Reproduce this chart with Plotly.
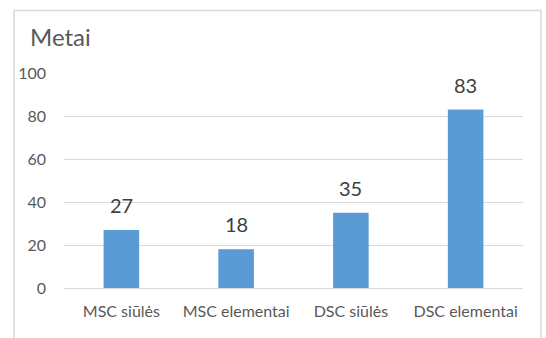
import plotly.graph_objects as go

categories = ["MSC siūlės", "MSC elementai", "DSC siūlės", "DSC elementai"]
values = [27, 18, 35, 83]
y_ticks = [0, 20, 40, 60, 80, 100]
title_text = "Metai"

FONT = "Lato, 'Liberation Sans', sans-serif"
W, H = 546, 338

fig = go.Figure(go.Bar(
    x=categories, y=values,
    marker=dict(color="#5b9bd5", line=dict(width=0)),
    width=0.31,
    hoverinfo="x+y",
))

for c, v in zip(categories, values):
    fig.add_annotation(x=c, y=v, text=str(v), showarrow=False,
                       yshift=25, yanchor="middle",
                       font=dict(family=FONT, size=20, color="#404040"))

# outer chart border
fig.add_shape(type="rect", xref="paper", yref="paper",
              x0=(14 - 64) / (W - 64 - 23), x1=(541 - 64) / (W - 64 - 23),
              y0=-(345 - 288) / (288 - 73), y1=(288 - 10.5) / (288 - 73),
              line=dict(color="#d9d9d9", width=1.5), layer="below")

fig.update_layout(
    width=W, height=H,
    margin=dict(l=64, r=23, t=73, b=50),
    paper_bgcolor="white", plot_bgcolor="white",
    font=dict(family=FONT, color="#595959"),
    showlegend=False,
    title=dict(text=title_text, xref="container", yref="container",
               x=30 / W, xanchor="left", y=1 - 38 / H, yanchor="middle",
               font=dict(family=FONT, size=24, color="#595959")),
    xaxis=dict(showgrid=False, showline=False, zeroline=False,
               tickfont=dict(family=FONT, size=16, color="#595959"),
               ticklabelstandoff=12),
    yaxis=dict(range=[0, 100], tickvals=y_ticks, showgrid=True,
               gridcolor="#d9d9d9", gridwidth=1, zeroline=True,
               zerolinecolor="#d9d9d9", zerolinewidth=1, showline=False,
               tickfont=dict(family=FONT, size=16, color="#595959"),
               ticklabelstandoff=17),
)

fig.write_html("out.html",
               config={"displayModeBar": False},
               post_script="document.body.style.margin='0';document.body.style.padding='0';")
